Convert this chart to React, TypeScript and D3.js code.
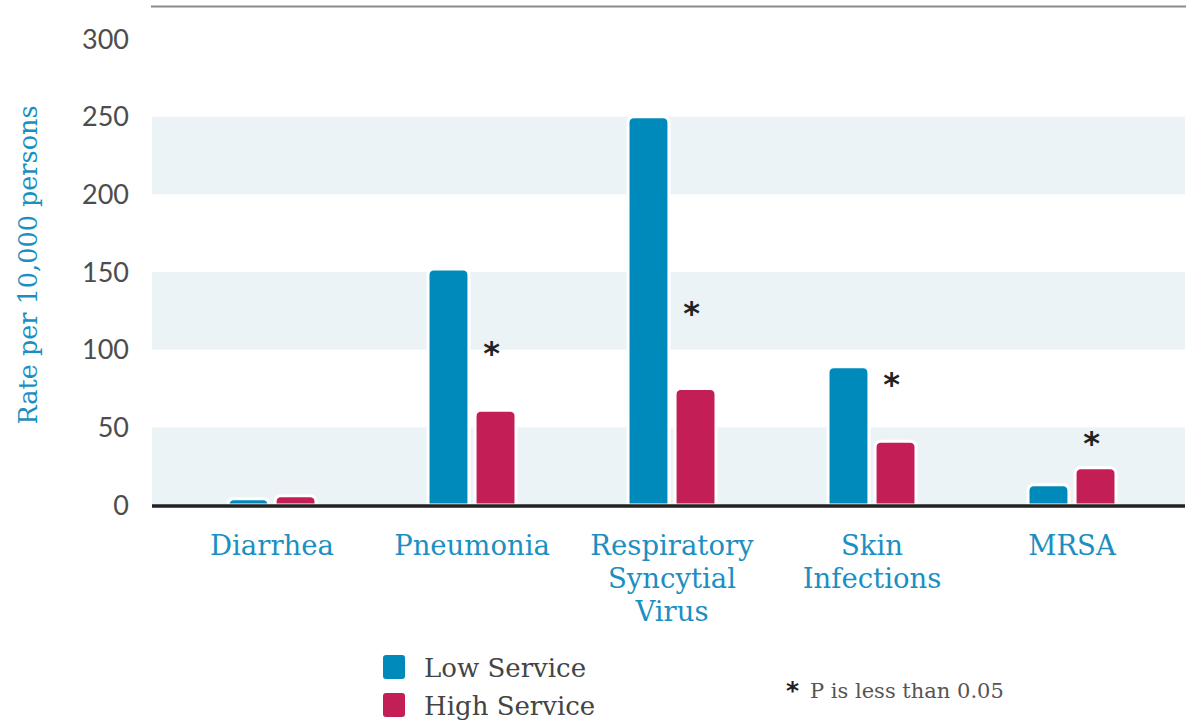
import * as d3 from "d3";

const categories = ["Diarrhea", "Pneumonia", "Respiratory Syncytial Virus", "Skin Infections", "MRSA"];
const categoryLines = [["Diarrhea"], ["Pneumonia"], ["Respiratory", "Syncytial", "Virus"], ["Skin", "Infections"], ["MRSA"]];
const lowService = [4, 152, 250, 89, 13];
const highService = [6, 61, 75, 41, 24];
// where the significance star sits (in rate units), null = not significant
const starAt: (number | null)[] = [null, 100, 126, 80, 42];
const yTicks = [0, 50, 100, 150, 200, 250, 300];
const stripes = [[0, 50], [100, 150], [200, 250]];

const LOW = "#0089bb";
const HIGH = "#c41e56";
const BLUE_TEXT = "#1b8fc2";
const SLAB = "'DejaVu Serif', serif";
const SANS = "Lato, 'Open Sans', sans-serif";

function topRoundedBar(x: number, y: number, w: number, h: number, r: number) {
  const rr = Math.min(r, h, w / 2);
  return `M${x},${y + h}V${y + rr}Q${x},${y} ${x + rr},${y}H${x + w - rr}Q${x + w},${y} ${x + w},${y + rr}V${y + h}Z`;
}

export default function App() {
  const width = 1190;
  const height = 723;
  const left = 152;
  const right = 1185;

  const y = d3.scaleLinear().domain([0, 300]).range([505, 39]);
  const x = d3.scaleBand<string>().domain(categories).range([172, 1172]);
  const inner = d3.scaleBand<string>().domain(["low", "high"]).range([-44, 44]).paddingInner(0.13);

  return (
    <svg width={width} height={height} style={{ position: "absolute", left: 0, top: 0, background: "#fff" }}>
      {/* top rule */}
      <line x1={left - 1} x2={right + 1} y1={6.5} y2={6.5} stroke="#8a8a8a" strokeWidth={2} />

      {/* alternate stripes */}
      {stripes.map(([a, b]) => (
        <rect key={a} x={left} width={right - left} y={y(b)} height={y(a) - y(b)} fill="#ecf3f7" />
      ))}

      {/* y tick labels */}
      {yTicks.map((t) => (
        <text key={t} x={129} y={y(t)} dy="0.36em" textAnchor="end" fontFamily={SANS} fontSize={27} fill="#4d4d4d">
          {t}
        </text>
      ))}

      <text
        transform={`translate(37,265) rotate(-90)`}
        textAnchor="middle"
        fontFamily={SLAB}
        fontSize={25.5}
        fill={BLUE_TEXT}
      >
        Rate per 10,000 persons
      </text>

      {/* bars */}
      {categories.map((c, i) => {
        const cx = (x(c) ?? 0) + x.bandwidth() / 2;
        const bw = inner.bandwidth();
        const lx = cx + (inner("low") ?? 0);
        const hx = cx + (inner("high") ?? 0);
        return (
          <g key={c}>
            <path
              d={topRoundedBar(lx, y(lowService[i]), bw, y(0) - y(lowService[i]), 6)}
              fill={LOW}
              stroke="#fff"
              strokeWidth={3}
            />
            <path
              d={topRoundedBar(hx, y(highService[i]), bw, y(0) - y(highService[i]), 6)}
              fill={HIGH}
              stroke="#fff"
              strokeWidth={3}
            />
            {starAt[i] !== null && (
              <text
                x={hx + bw / 2 - 4}
                y={y(starAt[i] as number)}
                dy="0.45em"
                textAnchor="middle"
                fontFamily="'DejaVu Sans', sans-serif"
                fontWeight="bold"
                fontSize={32}
                fill="#222"
              >
                *
              </text>
            )}
          </g>
        );
      })}

      {/* baseline */}
      <line x1={left} x2={right} y1={y(0) + 1} y2={y(0) + 1} stroke="#222" strokeWidth={3.5} />

      {/* category labels */}
      {categories.map((c, i) => (
        <text key={c} textAnchor="middle" fontFamily={SLAB} fontSize={27.5} fill={BLUE_TEXT}>
          {categoryLines[i].map((ln, j) => (
            <tspan key={j} x={(x(c) ?? 0) + x.bandwidth() / 2} y={555 + j * 33}>
              {ln}
            </tspan>
          ))}
        </text>
      ))}

      {/* legend */}
      <rect x={383} y={655} width={22} height={24} rx={3} fill={LOW} />
      <text x={424} y={677} fontFamily={SLAB} fontSize={26} fill="#444">Low Service</text>
      <rect x={383} y={693} width={22} height={24} rx={3} fill={HIGH} />
      <text x={424} y={715} fontFamily={SLAB} fontSize={26} fill="#444">High Service</text>

      <text x={786} y={699} fontFamily="'DejaVu Sans', sans-serif" fontWeight="bold" fontSize={25} fill="#222">*</text>
      <text x={810} y={698} fontFamily={SLAB} fontSize={21} fill="#555">P is less than 0.05</text>
    </svg>
  );
}
